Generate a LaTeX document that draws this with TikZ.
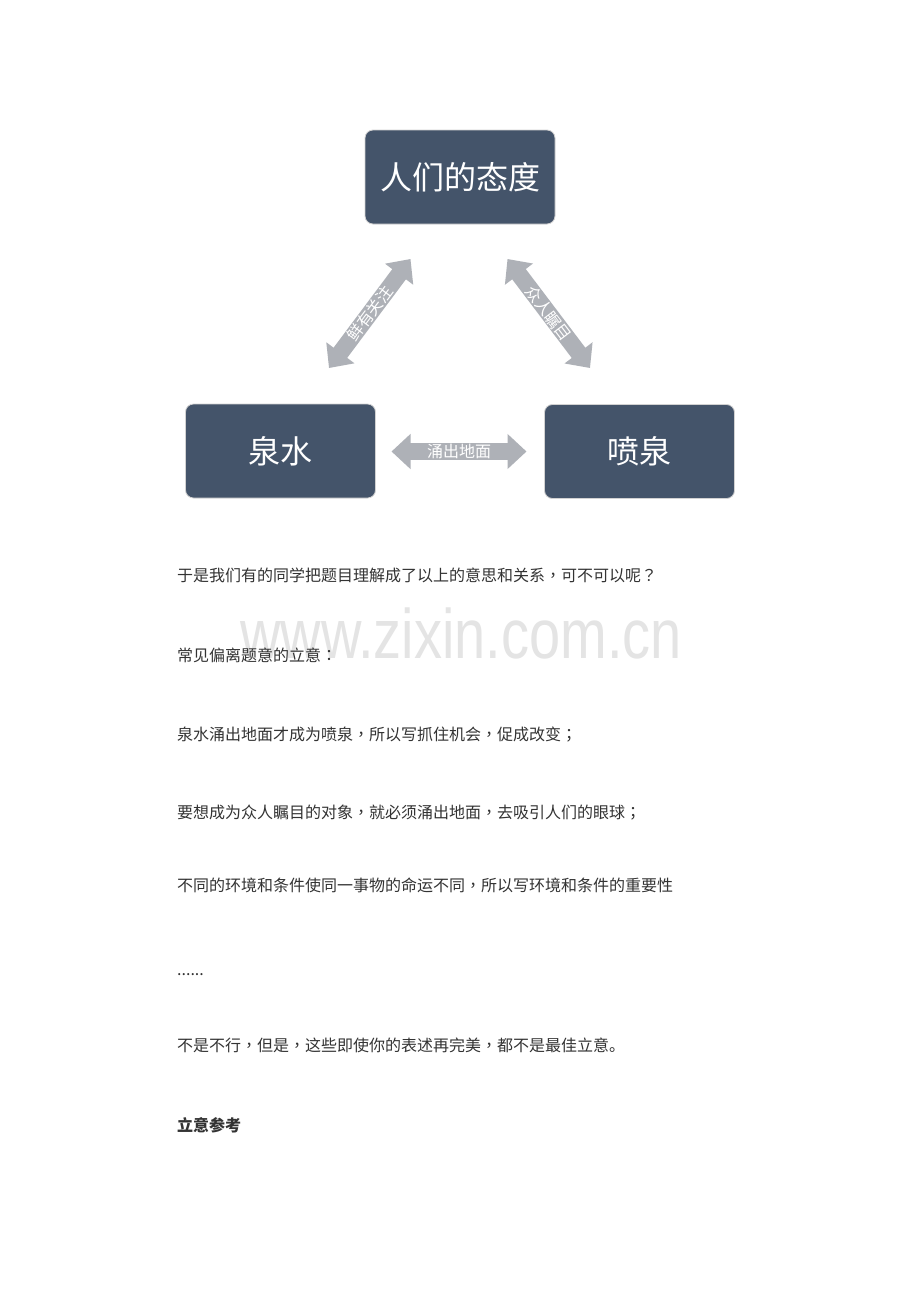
\documentclass[tikz,border=0pt]{standalone}
\usepackage{fontspec}
\setmainfont{Noto Sans CJK SC}
\newfontfamily\tcfont{Noto Sans CJK TC}
\newfontfamily\wmfont{Liberation Sans}
\newcommand{\cpunct}[1]{{\tcfont #1}}
\usetikzlibrary{arrows.meta}
\definecolor{boxblue}{HTML}{44546A}
\definecolor{arrowgray}{HTML}{AEB1B7}
\definecolor{bodytext}{HTML}{333333}
\definecolor{wmgray}{HTML}{E4E4E4}
\begin{document}
\begin{tikzpicture}[x=1pt,y=-1pt,
  box/.style={draw=gray!35, line width=0.8pt, fill=boxblue, rounded corners=8pt,
    minimum width=190pt, minimum height=94pt, text=white,
    font=\fontsize{32}{38}\selectfont, inner sep=0pt},
  link/.style={draw=arrowgray, line width=17pt,
    {Triangle[width=34pt,length=19pt]}-{Triangle[width=34pt,length=19pt]}},
  linklabel/.style={text=white, font=\fontsize{16}{20}\selectfont, inner sep=0pt},
  bodyline/.style={anchor=base west, text=bodytext, font=\fontsize{16}{20}\selectfont, inner sep=0pt},
]
\useasboundingbox (0,0) rectangle (920,1302);
\fill[white] (0,0) rectangle (920,1302);

% boxes
\node[box] (att) at (460,177) {人们的态度};
\node[box] (water) at (280.5,451) {泉水};
\node[box] (fountain) at (639.5,451.5) {喷泉};

% arrow end points
\coordinate (l1) at (329,368);
\coordinate (l2) at (410.5,259);
\coordinate (r1) at (507.5,259);
\coordinate (r2) at (590,368);
\coordinate (h1) at (391.5,451.5);
\coordinate (h2) at (526.5,451.5);

\draw[link] (l1) -- node[linklabel, sloped] (lab1) {鲜有关注} (l2);
\draw[link] (r1) -- node[linklabel, sloped] (lab2) {众人瞩目} (r2);
\draw[link] (h1) -- node[linklabel] (lab3) {涌出地面} (h2);

% watermark
\node[anchor=base west, inner sep=0pt, text=wmgray, font=\wmfont\fontsize{70}{72}\selectfont] (wm) at (240,658) {\scalebox{0.8}[1]{www.zixin.com.cn}};

% body text
\node[bodyline] (t1) at (177,581) {于是我们有的同学把题目理解成了以上的意思和关系\cpunct{，}可不可以呢\cpunct{？}};
\node[bodyline] (t2) at (177,661) {常见偏离题意的立意\cpunct{：}};
\node[bodyline] (t3) at (177,740) {泉水涌出地面才成为喷泉\cpunct{，}所以写抓住机会\cpunct{，}促成改变\cpunct{；}};
\node[bodyline] (t4) at (177,818) {要想成为众人瞩目的对象\cpunct{，}就必须涌出地面\cpunct{，}去吸引人们的眼球\cpunct{；}};
\node[bodyline] (t5) at (177,891) {不同的环境和条件使同一事物的命运不同\cpunct{，}所以写环境和条件的重要性};
\node[bodyline] (t6) at (177,975) {......};
\node[bodyline] (t7) at (177,1051) {不是不行\cpunct{，}但是\cpunct{，}这些即使你的表述再完美\cpunct{，}都不是最佳立意。};
\node[bodyline, font=\bfseries\fontsize{16}{20}\selectfont] (t8) at (177,1131) {立意参考};
\end{tikzpicture}
\end{document}
